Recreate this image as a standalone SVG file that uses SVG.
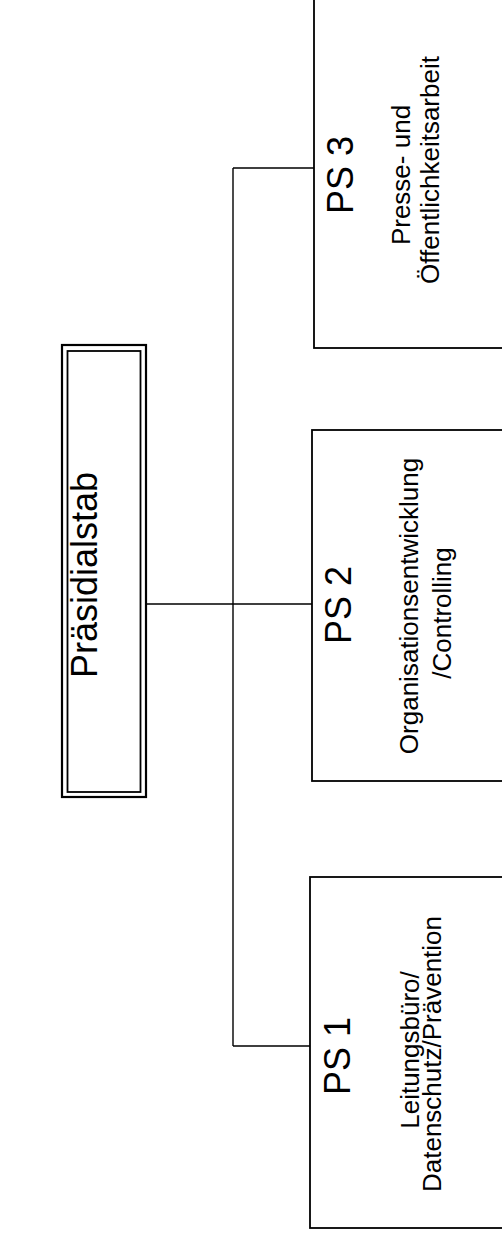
<svg xmlns="http://www.w3.org/2000/svg" width="502" height="1236" viewBox="0 0 502 1236">
<style>
.box{fill:#fff;stroke:#000;stroke-width:1.8}
.line{fill:none;stroke:#000;stroke-width:1.4}
.big{font-family:"Liberation Sans",Arial,sans-serif;font-size:36px;fill:#000;text-anchor:middle}
.small{font-family:"Liberation Sans",Arial,sans-serif;font-size:26px;fill:#000;text-anchor:middle}
</style>
<rect width="502" height="1236" fill="#fff"/>
<g id="connectors">
<path class="line" d="M146 604H312M233 168V1046M233 168H314M233 1046H310"/>
</g>
<g id="praesidialstab">
<rect x="62" y="345" width="84" height="452" fill="#fff" stroke="#000" stroke-width="2.2"/>
<rect x="67.5" y="351" width="73" height="441" fill="none" stroke="#000" stroke-width="1.8"/>
<text class="big" transform="translate(97,575) rotate(-90)">Präsidialstab</text>
</g>
<g id="ps3">
<rect class="box" x="314" y="-5" width="200" height="353"/>
<text class="big" transform="translate(353,175) rotate(-90)">PS 3</text>
<text class="small" transform="translate(410,175) rotate(-90)">Presse- und</text>
<text class="small" transform="translate(439,170) rotate(-90)">Öffentlichkeitsarbeit</text>
</g>
<g id="ps2">
<rect class="box" x="312" y="430" width="200" height="351"/>
<text class="big" transform="translate(351,605) rotate(-90)">PS 2</text>
<text class="small" transform="translate(418,606) rotate(-90)">Organisationsentwicklung</text>
<text class="small" transform="translate(451,613) rotate(-90)">/Controlling</text>
</g>
<g id="ps1">
<rect class="box" x="310" y="877" width="200" height="351"/>
<text class="big" transform="translate(350,1056) rotate(-90)">PS 1</text>
<text class="small" transform="translate(419,1050) rotate(-90)">Leitungsbüro/</text>
<text class="small" transform="translate(441,1054) rotate(-90)">Datenschutz/Prävention</text>
</g>
</svg>
